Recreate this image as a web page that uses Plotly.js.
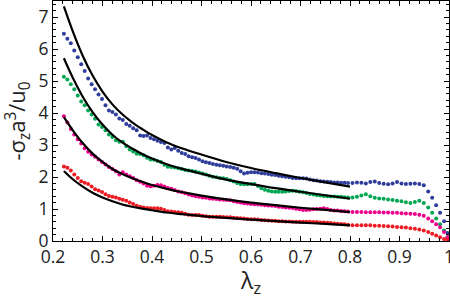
<!DOCTYPE html>
<html>
<head>
<meta charset="utf-8">
<script src="https://cdn.plot.ly/plotly-3.0.1.min.js"></script>
<style>html,body{margin:0;padding:0;background:#fff;}#chart{width:450px;height:299px;}</style>
</head>
<body>
<div id="chart"></div>
<script>
// measured lambda_z positions of data points
const xDense = [0.222,0.229,0.236,0.243,0.250,0.257,0.264,0.271,0.278,0.285,0.292,0.299,0.306,0.313,0.320,0.327,0.334,0.341,0.348,0.355,0.362,0.369,0.376,0.383,0.390,0.397,0.404,0.411,0.418,0.425,0.432,0.439,0.446,0.453,0.460,0.467,0.474,0.481,0.488,0.495,0.502,0.509,0.516,0.523,0.530,0.537,0.544,0.551,0.558,0.565,0.572,0.579,0.586,0.593,0.600,0.607,0.614,0.621,0.628,0.635,0.642,0.649,0.656,0.663,0.670,0.677,0.684,0.691,0.698,0.705,0.712,0.719,0.726,0.733,0.740,0.747,0.754,0.761,0.768,0.775,0.782,0.789,0.796];
const xTail = [0.805,0.814,0.823,0.832,0.841,0.850,0.859,0.868,0.877,0.886,0.895,0.904,0.913,0.922,0.931,0.940,0.949,0.958,0.966,0.974,0.982,0.990,0.997];

const blueDense = [6.48,6.32,6.18,5.95,5.74,5.52,5.31,5.08,4.90,4.74,4.58,4.44,4.24,4.08,4.03,3.95,3.83,3.78,3.66,3.60,3.52,3.46,3.30,3.28,3.30,3.22,3.18,3.13,3.09,3.06,2.92,2.86,2.91,2.82,2.75,2.72,2.65,2.62,2.59,2.55,2.49,2.46,2.44,2.41,2.38,2.37,2.35,2.33,2.31,2.29,2.26,2.18,2.11,2.13,2.15,2.15,2.14,2.12,2.11,2.09,2.07,2.06,2.04,2.02,2.01,1.99,1.97,1.96,1.96,1.96,1.95,1.92,1.90,1.89,1.87,1.86,1.85,1.84,1.83,1.83,1.82,1.82,1.81];
const blueTail = [1.81,1.83,1.82,1.80,1.84,1.86,1.81,1.79,1.77,1.80,1.84,1.80,1.78,1.79,1.80,1.78,1.74,1.55,1.35,1.12,0.88,0.62,0.25];

const greenDense = [5.13,5.05,4.90,4.74,4.55,4.36,4.24,4.08,3.95,3.82,3.64,3.56,3.46,3.33,3.25,3.15,3.10,3.10,2.96,2.86,2.80,2.73,2.72,2.68,2.60,2.55,2.54,2.50,2.47,2.38,2.32,2.31,2.30,2.27,2.25,2.22,2.20,2.19,2.17,2.14,2.11,2.08,2.04,2.01,1.99,1.97,1.96,1.94,1.90,1.86,1.81,1.78,1.77,1.77,1.78,1.78,1.72,1.65,1.60,1.57,1.55,1.54,1.54,1.54,1.55,1.56,1.57,1.56,1.54,1.52,1.50,1.47,1.45,1.43,1.42,1.41,1.40,1.39,1.39,1.38,1.38,1.37,1.36];
const greenTail = [1.36,1.38,1.42,1.46,1.40,1.35,1.33,1.32,1.30,1.28,1.26,1.24,1.21,1.19,1.22,1.26,1.19,1.05,0.88,0.70,0.52,0.33,0.12];

const magentaDense = [3.90,3.70,3.50,3.33,3.18,3.05,2.90,2.79,2.70,2.63,2.55,2.47,2.39,2.31,2.25,2.18,2.08,2.15,2.08,2.02,1.97,1.90,1.85,1.80,1.73,1.71,1.73,1.75,1.74,1.70,1.66,1.63,1.59,1.55,1.52,1.49,1.45,1.42,1.40,1.38,1.36,1.35,1.33,1.32,1.31,1.30,1.29,1.28,1.27,1.24,1.22,1.20,1.18,1.17,1.16,1.15,1.14,1.13,1.12,1.11,1.10,1.09,1.07,1.06,1.05,1.04,1.03,1.01,0.99,0.97,0.97,0.98,0.99,1.00,1.01,1.02,1.00,0.97,0.95,0.95,0.94,0.93,0.92];
const magentaTail = [0.91,0.91,0.91,0.90,0.90,0.90,0.90,0.89,0.89,0.88,0.88,0.87,0.86,0.85,0.84,0.82,0.79,0.70,0.62,0.52,0.43,0.28,0.12];

const redDense = [2.33,2.29,2.20,2.08,1.97,1.87,1.82,1.78,1.70,1.62,1.58,1.53,1.46,1.41,1.38,1.36,1.32,1.29,1.26,1.20,1.16,1.10,1.07,1.05,1.03,1.02,1.02,1.02,1.01,0.97,0.93,0.92,0.91,0.90,0.88,0.85,0.82,0.81,0.81,0.81,0.79,0.77,0.76,0.76,0.76,0.76,0.75,0.74,0.74,0.73,0.72,0.71,0.70,0.69,0.68,0.68,0.67,0.66,0.65,0.64,0.63,0.63,0.62,0.62,0.61,0.61,0.60,0.60,0.60,0.60,0.60,0.60,0.59,0.59,0.58,0.58,0.57,0.56,0.55,0.54,0.53,0.52,0.51];
const redTail = [0.49,0.49,0.49,0.49,0.49,0.48,0.48,0.47,0.46,0.45,0.44,0.43,0.42,0.40,0.38,0.36,0.33,0.28,0.23,0.17,0.12,0.06,0.03];

// fitted curves
const xFit = [0.222,0.24,0.26,0.28,0.30,0.32,0.34,0.36,0.38,0.40,0.43,0.46,0.50,0.55,0.60,0.65,0.70,0.75,0.80];
const blueFit = [7.33,6.55,5.79,5.17,4.67,4.27,3.96,3.71,3.50,3.31,3.08,2.90,2.70,2.47,2.28,2.12,1.97,1.83,1.70];
const greenFit = [5.71,5.10,4.51,4.03,3.64,3.32,3.08,2.89,2.72,2.58,2.40,2.26,2.10,1.92,1.78,1.65,1.54,1.43,1.32];
const magentaFit = [3.87,3.46,3.06,2.73,2.47,2.25,2.09,1.96,1.85,1.75,1.63,1.53,1.42,1.30,1.20,1.12,1.04,0.97,0.90];
const redFit = [2.19,1.93,1.70,1.51,1.36,1.24,1.14,1.07,1.01,0.96,0.89,0.84,0.78,0.72,0.67,0.62,0.575,0.535,0.49];

const xTicks = [0.2,0.3,0.4,0.5,0.6,0.7,0.8,0.9,1];
const xTickText = ['0.2','0.3','0.4','0.5','0.6','0.7','0.8','0.9','1'];
const yTicks = [0,1,2,3,4,5,6,7];

const xAll = xDense.concat(xTail);
const series = [
  {y: blueDense.concat(blueTail), color: '#2f3d9c'},
  {y: greenDense.concat(greenTail), color: '#00a651'},
  {y: magentaDense.concat(magentaTail), color: '#ec008c'},
  {y: redDense.concat(redTail), color: '#ed1c24'}
];
const fits = [blueFit, greenFit, magentaFit, redFit];

const traces = [];
series.forEach(s => traces.push({
  x: xAll, y: s.y, type: 'scatter', mode: 'markers',
  marker: {size: 4, color: s.color}, hoverinfo: 'skip', cliponaxis: true
}));
fits.forEach(f => traces.push({
  x: xFit, y: f, type: 'scatter', mode: 'lines',
  line: {color: '#000', width: 2.2, shape: 'spline'}, hoverinfo: 'skip'
}));

const font = 'Open Sans, Noto Sans, sans-serif';
const layout = {
  width: 450, height: 299,
  margin: {l: 53, r: 1, t: 1, b: 58},
  paper_bgcolor: '#fff', plot_bgcolor: '#fff',
  showlegend: false,
  font: {family: font, size: 17, color: '#222'},
  xaxis: {
    range: [0.2, 1.0], tickvals: xTicks, ticktext: xTickText,
    ticklabeloverflow: 'allow',
    ticks: 'inside', ticklen: 5, tickwidth: 1, tickcolor: '#000',
    minor: {dtick: 0.02, ticks: 'inside', ticklen: 3, tickcolor: '#000', showgrid: false},
    showline: true, linecolor: '#000', linewidth: 1, mirror: 'ticks',
    showgrid: false, zeroline: false,
    tickfont: {family: font, size: 17.5, color: '#222'},
    title: {text: 'λ<sub>z</sub>', font: {family: font, size: 23, color: '#222'}, standoff: 5}
  },
  yaxis: {
    range: [0, 7.5], tickvals: yTicks,
    ticks: 'inside', ticklen: 5, tickwidth: 1, tickcolor: '#000',
    minor: {dtick: 0.2, ticks: 'inside', ticklen: 3, tickcolor: '#000', showgrid: false},
    showline: true, linecolor: '#000', linewidth: 1, mirror: 'ticks',
    showgrid: false, zeroline: false,
    tickfont: {family: font, size: 17.5, color: '#222'},
    title: {text: '-σ<sub>z</sub>a<sup>3</sup>/u<sub>0</sub>', font: {family: font, size: 22, color: '#222'}, standoff: 6}
  }
};
Plotly.newPlot('chart', traces, layout, {staticPlot: true, displayModeBar: false});
</script>
</body>
</html>
